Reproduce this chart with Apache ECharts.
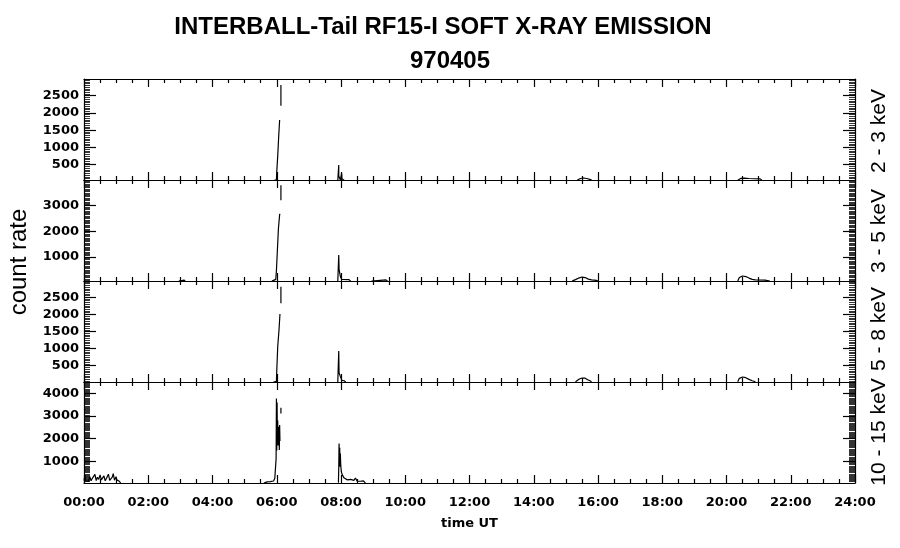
<!DOCTYPE html>
<html>
<head>
<meta charset="utf-8">
<script src="https://cdn.jsdelivr.net/npm/echarts@6/dist/echarts.min.js"></script>
<style>html,body{margin:0;padding:0;background:#fff}#c{width:900px;height:548px}</style>
</head>
<body>
<div id="c"></div>
<script>
// ---------- data ----------
const titleLine1 = 'INTERBALL-Tail RF15-I SOFT X-RAY EMISSION';
const titleLine2 = '970405';
const xAxisName = 'time UT';
const yAxisName = 'count rate';
const xTickLabels = ['00:00','02:00','04:00','06:00','08:00','10:00','12:00','14:00','16:00','18:00','20:00','22:00','24:00'];
const panelNames = ['2 - 3 keV', '3 - 5 keV', '5 - 8 keV', '10 - 15 keV'];
const yMins = [57, 66, 23, 43];
const yMaxs = [2985, 4000, 2977, 4500];
const yMajorTicks = [
  [500, 1000, 1500, 2000, 2500],
  [1000, 2000, 3000],
  [500, 1000, 1500, 2000, 2500],
  [1000, 2000, 3000, 4000]
];
const yMinorStep = 50;

// time in hours UT, count rate; null = data gap
const band2to3 = [
  [5.9,40],[5.99,60],[6.0,300],[6.02,320],[6.03,750],[6.05,760],[6.06,1310],[6.08,1330],[6.09,1795],[6.11,1800],null,
  [6.13,2210],[6.13,2810],null,
  [7.9,40],[7.93,492],[7.93,173],[7.96,170],[7.98,60],[8.0,80],[8.02,250],[8.03,90],[8.1,50],null,
  [8.25,95],[8.27,95],null,
  [15.35,50],[15.45,100],[15.55,115],[15.65,100],[15.8,60],null,
  [20.35,50],[20.45,105],[20.55,110],[20.7,100],[21.05,90],[21.1,50],null,
  [21.18,95],[21.2,95],null
];
const band3to5 = [
  [2.95,60],[3.0,100],[3.12,100],[3.15,60],null,
  [5.85,60],[5.9,120],[5.97,130],[5.99,480],[6.01,500],[6.02,1260],[6.04,1280],[6.05,2070],[6.08,2100],[6.09,2660],[6.11,2680],null,
  [6.13,3216],[6.13,3800],null,
  [7.9,60],[7.93,1078],[7.94,530],[7.97,520],[7.98,240],[8.0,230],[8.02,130],[8.25,120],[8.3,60],null,
  [8.95,60],[9.0,110],[9.4,110],[9.45,60],null,
  [15.2,70],[15.3,120],[15.4,180],[15.5,220],[15.6,200],[15.7,140],[15.8,110],[15.95,90],[16.0,60],null,
  [20.35,70],[20.4,200],[20.5,260],[20.6,240],[20.7,180],[20.8,130],[20.9,110],[21.2,100],[21.35,60],null
];
const band5to8 = [
  [5.9,20],[5.99,40],[6.0,340],[6.02,350],[6.03,1055],[6.06,1070],[6.07,1545],[6.09,1560],[6.1,2012],[6.11,2020],null,
  [6.13,2324],[6.13,2810],null,
  [7.9,20],[7.93,930],[7.94,290],[7.97,280],[7.98,185],[8.01,180],[8.03,70],[8.1,60],[8.15,20],null,
  [15.3,30],[15.35,60],[15.42,110],[15.5,140],[15.6,135],[15.68,90],[15.75,60],[15.8,30],null,
  [20.35,30],[20.4,130],[20.5,170],[20.6,150],[20.7,100],[20.8,60],[20.9,30],null
];
const band10to15 = [
  [0,150],[0.03,380],[0.06,120],[0.1,200],[0.14,130],[0.18,320],[0.22,140],[0.26,250],[0.3,180],[0.34,420],
  [0.38,150],[0.42,300],[0.46,200],[0.5,400],[0.54,180],[0.58,260],[0.62,360],[0.66,140],[0.7,250],[0.76,430],
  [0.8,160],[0.84,200],[0.88,300],[0.91,460],[0.95,170],[1.0,320],[1.02,180],[1.06,250],[1.1,120],[1.14,40],null,
  [5.6,40],[5.7,90],[5.8,100],[5.9,130],[5.94,250],[5.97,300],[5.98,1120],[5.99,3770],[6.0,1480],[6.01,3600],
  [6.02,2080],[6.03,2800],[6.04,1700],[6.05,2520],[6.06,2100],[6.07,2300],[6.08,1500],[6.09,2600],[6.1,1900],null,
  [6.13,3110],[6.13,3360],null,
  [7.92,60],[7.93,690],[7.94,1790],[7.95,1000],[7.96,1600],[7.97,760],[7.98,1340],[7.99,900],[8.0,700],[8.01,540],
  [8.04,400],[8.07,380],[8.1,260],[8.15,240],[8.2,180],[8.25,150],[8.3,200],[8.35,140],[8.4,160],[8.45,260],
  [8.5,130],[8.6,120],[8.7,140],[8.74,110],[8.76,40],null
];
const bands = [band2to3, band3to5, band5to8, band10to15];

// ---------- layout ----------
const gridLeft = 84, gridRight = 45;
const panelTops = [79, 180, 281, 382];
const panelHeight = 101;
const labelFont = 'DejaVu Sans';

const chart = echarts.init(document.getElementById('c'), null, {renderer: 'canvas'});

function minorValues(min, max, step) {
  const out = [];
  for (let v = Math.ceil(min / step) * step; v <= max; v += step) out.push(v);
  return out;
}

const grids = [], xAxes = [], yAxes = [], series = [];
panelTops.forEach((top, i) => {
  grids.push({left: gridLeft, right: gridRight, top: top, height: panelHeight, containLabel: false});
  ['bottom', 'top'].forEach(pos => {
    xAxes.push({
      type: 'value', gridIndex: i, position: pos, min: 0, max: 24, interval: 2,
      axisLine: {show: true, onZero: false, lineStyle: {color: '#000', width: 1.2}},
      axisTick: {show: true, inside: true, length: 8, lineStyle: {color: '#000', width: 1.2}},
      minorTick: {show: true, splitNumber: 4, length: 4, lineStyle: {color: '#000', width: 1.2}},
      splitLine: {show: false},
      axisLabel: {
        show: (i === 3 && pos === 'bottom'),
        margin: 13,
        fontFamily: labelFont, fontWeight: 'bold', fontSize: 13, color: '#000',
        formatter: v => xTickLabels[Math.round(v / 2)]
      },
      name: (i === 3 && pos === 'bottom') ? xAxisName : '',
      nameLocation: 'middle', nameGap: 34,
      nameTextStyle: {fontFamily: labelFont, fontWeight: 'bold', fontSize: 13, color: '#000'}
    });
  });
  const mn = yMins[i], mx = yMaxs[i];
  const minors = minorValues(mn, mx, yMinorStep);
  const base = yAxes.length;
  ['left', 'right'].forEach(pos => {
    yAxes.push({
      type: 'value', gridIndex: i, position: pos, min: mn, max: mx,
      axisLine: {show: true, onZero: false, lineStyle: {color: '#000', width: 1.2}},
      axisTick: {show: true, inside: true, length: 12, customValues: yMajorTicks[i], lineStyle: {color: '#000', width: 1.2}},
      splitLine: {show: false},
      axisLabel: {
        show: pos === 'left', customValues: yMajorTicks[i], margin: 5,
        fontFamily: labelFont, fontWeight: 'bold', fontSize: 13, color: '#000',
        formatter: v => String(v)
      }
    });
    yAxes.push({
      type: 'value', gridIndex: i, position: pos, min: mn, max: mx,
      axisLine: {show: false, onZero: false},
      axisTick: {show: true, inside: true, length: 6, customValues: minors, lineStyle: {color: '#000', width: 0.8}},
      splitLine: {show: false},
      axisLabel: {show: false}
    });
  });
  series.push({
    type: 'line', xAxisIndex: i * 2, yAxisIndex: base,
    data: bands[i].map(p => p === null ? ['-', '-'] : p),
    showSymbol: false, symbol: 'none', connectNulls: false, clip: true,
    lineStyle: {color: '#000', width: 1.2}, silent: true
  });
});

const graphics = [
  {type: 'text', x: 443, y: 27, style: {text: titleLine1, font: 'bold 24px "Liberation Sans", Arial, sans-serif', fill: '#000', textAlign: 'center', textVerticalAlign: 'middle'}},
  {type: 'text', x: 450, y: 61, style: {text: titleLine2, font: 'bold 24px "Liberation Sans", Arial, sans-serif', fill: '#000', textAlign: 'center', textVerticalAlign: 'middle'}},
  {type: 'text', x: 19, y: 262, rotation: Math.PI / 2, style: {text: yAxisName, font: '24px "Liberation Sans", Arial, sans-serif', fill: '#000', textAlign: 'center', textVerticalAlign: 'middle'}}
];
const rightLabelY = [131, 231, 329, 432];
panelNames.forEach((n, i) => {
  graphics.push({type: 'text', x: 879, y: rightLabelY[i], rotation: Math.PI / 2,
    style: {text: n, font: '21px "Liberation Sans", Arial, sans-serif', fill: '#000', textAlign: 'center', textVerticalAlign: 'middle'}});
});

chart.setOption({
  animation: false,
  backgroundColor: '#fff',
  grid: grids, xAxis: xAxes, yAxis: yAxes, series: series,
  graphic: graphics
});
</script>
</body>
</html>
